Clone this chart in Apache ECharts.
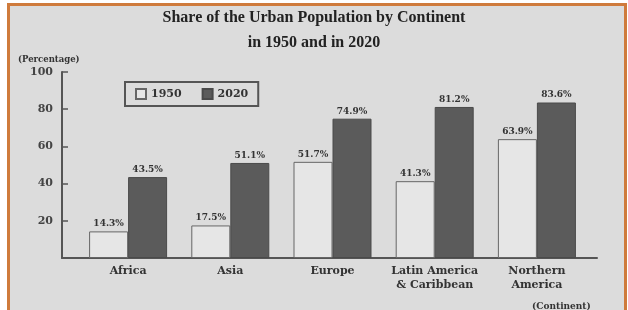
<!DOCTYPE html>
<html lang="en">
<head>
  <meta charset="utf-8">
  <title>Share of the Urban Population by Continent</title>
  <script src="https://cdn.jsdelivr.net/npm/echarts@6/dist/echarts.min.js"></script>
</head>
<body style="margin: 0; background: #fff">
  <div id="frame" style="position: absolute; left: 7px; top: 3px; width: 620px; height: 307px; box-sizing: border-box; border: 3px solid #cf7b3c; border-bottom: none; background: #dcdcdc"></div>
  <div id="container" style="position: absolute; left: 0; top: 0; width: 628px; height: 310px"></div>

  <script type="text/javascript">
    var dom = document.getElementById('container');
    var myChart = echarts.init(dom, null, { renderer: 'canvas' });

    // 数据
    const continents = ['Africa', 'Asia', 'Europe', 'Latin America\n& Caribbean', 'Northern\nAmerica'];
    const share1950 = [14.3, 17.5, 51.7, 41.3, 63.9];
    const share2020 = [43.5, 51.1, 74.9, 81.2, 83.6];

    const serif = 'Liberation Serif';
    const wide = 'DejaVu Serif';
    const ink = '#333';

    var option = {
      animation: false,
      title: [
        {
          text: 'Share of the Urban Population by Continent',
          left: 'center',
          top: 5,
          textStyle: { fontFamily: serif, fontSize: 16, fontWeight: 'bold', color: '#222' }
        },
        {
          text: 'in 1950 and in 2020',
          left: 'center',
          top: 30,
          textStyle: { fontFamily: serif, fontSize: 16, fontWeight: 'bold', color: '#222' }
        },
        {
          text: '(Percentage)',
          left: 13,
          top: 50,
          textStyle: { fontFamily: wide, fontSize: 8.5, fontWeight: 'bold', color: ink }
        },
        {
          text: '(Continent)',
          left: 527,
          top: 297,
          textStyle: { fontFamily: wide, fontSize: 9, fontWeight: 'bold', color: ink }
        }
      ],
      legend: {
        data: ['1950', '2020'],
        icon: 'rect',
        left: 125,
        top: 82,
        padding: [6, 10],
        itemGap: 20,
        itemWidth: 10,
        itemHeight: 10,
        borderColor: '#555',
        borderWidth: 2,
        textStyle: { fontFamily: wide, fontSize: 11, fontWeight: 'bold', color: ink }
      },
      grid: [
        { left: 77, right: 40, top: 72, bottom: 52 },
        { left: 62, right: 31, top: 72, bottom: 52 }
      ],
      xAxis: [
        {
          type: 'category',
          gridIndex: 0,
          data: continents,
          axisLine: { show: false },
          axisTick: { show: false },
          axisLabel: { interval: 0, margin: 6, fontFamily: wide, fontSize: 11, fontWeight: 'bold', color: ink, lineHeight: 14 }
        },
        {
          type: 'category',
          gridIndex: 1,
          data: [''],
          axisLine: { lineStyle: { color: '#555', width: 2 } },
          axisTick: { show: false },
          axisLabel: { show: false }
        }
      ],
      yAxis: [
        {
          type: 'value',
          gridIndex: 0,
          min: 0,
          max: 100,
          interval: 20,
          show: false
        },
        {
          type: 'value',
          gridIndex: 1,
          min: 0,
          max: 100,
          interval: 20,
          axisLine: { show: true, lineStyle: { color: '#555', width: 2 } },
          axisTick: { show: true, inside: true, length: 6, lineStyle: { color: '#555', width: 1.5 } },
          splitLine: { show: false },
          axisLabel: {
            margin: 9,
            fontFamily: wide,
            fontSize: 11,
            fontWeight: 'bold',
            color: '#444',
            formatter: function (v) { return v === 0 ? '' : v; }
          }
        }
      ],
      series: [
        {
          name: '1950',
          type: 'bar',
          xAxisIndex: 0,
          yAxisIndex: 0,
          data: share1950,
          barWidth: 39,
          barGap: '0%',
          itemStyle: { color: '#e6e6e6', borderColor: '#666', borderWidth: 1 },
          label: {
            show: true,
            position: 'top',
            distance: 3,
            formatter: '{c}%',
            fontFamily: wide,
            fontSize: 9,
            fontWeight: 'bold',
            color: ink
          }
        },
        {
          name: '2020',
          type: 'bar',
          xAxisIndex: 0,
          yAxisIndex: 0,
          data: share2020,
          barWidth: 39,
          barGap: '0%',
          itemStyle: { color: '#5b5b5b', borderColor: '#4a4a4a', borderWidth: 1 },
          label: {
            show: true,
            position: 'top',
            distance: 3,
            formatter: '{c}%',
            fontFamily: wide,
            fontSize: 9,
            fontWeight: 'bold',
            color: ink
          }
        }
      ]
    };

    myChart.setOption(option);
    window.addEventListener('resize', myChart.resize);
  </script>
</body>
</html>
